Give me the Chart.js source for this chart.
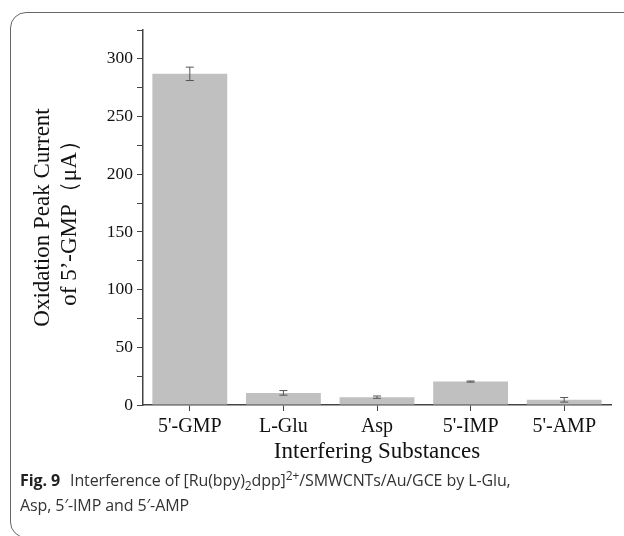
<!DOCTYPE html>
<html>
<head>
<meta charset="utf-8">
<script src="https://cdn.jsdelivr.net/npm/chart.js@4/dist/chart.umd.min.js"></script>
<style>
  html, body { margin: 0; padding: 0; background: #fff; }
  body { width: 624px; height: 536px; position: relative; overflow: hidden; }
  .card {
    position: absolute; left: 10px; top: 12px; width: 680px; height: 526px;
    border: 1.5px solid #666; border-radius: 16px; box-sizing: border-box;
  }
  #wrap { position: absolute; left: 0; top: 0; width: 624px; height: 470px; }
  .caption {
    position: absolute; left: 20px; top: 468px; width: 500px;
    font-family: "Open Sans", "Noto Sans", sans-serif; font-size: 16px;
    line-height: 25px; color: #333; letter-spacing: -0.1px;
  }
  .caption b { font-weight: 700; margin-right: 6px; color: #222; }
  .caption sub, .caption sup { font-size: 12px; line-height: 0; }
</style>
</head>
<body>
<div class="card"></div>
<div id="wrap"><canvas id="myChart"></canvas></div>
<div class="caption"><b>Fig. 9</b> Interference of [Ru(bpy)<sub>2</sub>dpp]<sup>2+</sup>/SMWCNTs/Au/GCE by L-Glu, Asp, 5′-IMP and 5′-AMP</div>
<script>
const categories = ["5'-GMP", 'L-Glu', 'Asp', "5'-IMP", "5'-AMP"];
const currents = [287, 10.5, 6.8, 20.3, 4.5];
const errors = [5.8, 2, 1, 0.5, 2];
const yTicks = [0, 50, 100, 150, 200, 250, 300];

const axisColor = '#444';

const errorBars = {
  id: 'errorBars',
  afterDatasetsDraw(chart) {
    const { ctx, scales: { x, y } } = chart;
    ctx.save();
    ctx.strokeStyle = '#555';
    ctx.lineWidth = 1;
    currents.forEach((v, i) => {
      const cx = x.getPixelForValue(i);
      const top = y.getPixelForValue(v + errors[i]);
      const bot = y.getPixelForValue(v - errors[i]);
      ctx.beginPath();
      ctx.moveTo(cx, top); ctx.lineTo(cx, bot);
      ctx.moveTo(cx - 4, top); ctx.lineTo(cx + 4, top);
      ctx.moveTo(cx - 4, bot); ctx.lineTo(cx + 4, bot);
      ctx.stroke();
    });
    ctx.restore();
  }
};

const ctx = document.getElementById('myChart');
new Chart(ctx, {
  type: 'bar',
  data: {
    labels: categories,
    datasets: [{
      data: currents,
      backgroundColor: '#c0c0c0',
      borderWidth: 0,
      barPercentage: 0.8,
      categoryPercentage: 1.0
    }]
  },
  options: {
    responsive: true,
    maintainAspectRatio: false,
    animation: false,
    layout: { padding: { top: 30, right: 13, left: 0, bottom: 0 } },
    plugins: { legend: { display: false }, tooltip: { enabled: false } },
    scales: {
      x: {
        offset: true,
        grid: { offset: false, drawOnChartArea: false, color: axisColor, tickLength: 6 },
        border: { display: true, color: axisColor, width: 1.5 },
        ticks: { color: '#111', padding: 4, font: { family: 'Liberation Serif', size: 20 } },
        title: {
          display: true, text: 'Interfering Substances', color: '#111',
          font: { family: 'Liberation Serif', size: 23 }, padding: { top: 0, bottom: 4 }
        },
        afterFit(scale) { scale.height = 65; }
      },
      y: {
        min: 0, max: 325,
        grid: { drawOnChartArea: false, color: axisColor, tickLength: 6 },
        border: { display: true, color: axisColor, width: 1.5 },
        ticks: {
          stepSize: 25, color: '#111', padding: 4,
          font: { family: 'Liberation Serif', size: 17.5 },
          callback: v => yTicks.includes(v) ? v : ''
        },
        title: {
          display: true, text: ['Oxidation Peak Current', 'of 5’-GMP（μA）'], color: '#111',
          font: { family: 'Liberation Serif', size: 23, lineHeight: 1.2 }, padding: { top: 29, bottom: 0 }
        },
        afterFit(scale) { scale.width = 143; }
      }
    }
  },
  plugins: [errorBars]
});
</script>
</body>
</html>
